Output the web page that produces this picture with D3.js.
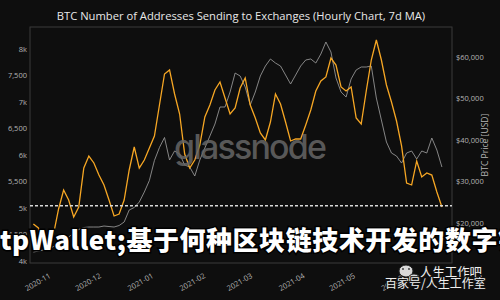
<!DOCTYPE html>
<html lang="en">
<head>
<meta charset="utf-8">
<title>BTC addresses sending to exchanges</title>
<script src="https://d3js.org/d3.v7.min.js"></script>
<style>
  body { margin: 0; background: #0e0e0e; }
  svg { display: block; }
</style>
</head>
<body>
<script>
// one sample every 3 days, 2020-10-23 .. 2021-06-23
var dates = d3.utcDay.range(new Date(Date.UTC(2020, 9, 23)), new Date(Date.UTC(2021, 5, 24)), 3);

// addresses sending to exchanges (7d MA), left axis
var addresses = [4698, 4622, 4415, 4330, 4509, 4981, 5339, 5151, 4830, 5019,
  5754, 5981, 5849, 5622, 5434, 5151, 4849, 4886, 5151, 5717,
  6151, 5754, 5905, 6132, 6358, 6943, 7528, 7604, 7151, 6773,
  6019, 5754, 5905, 6188, 6717, 6943, 7226, 7377, 7075, 6773,
  6887, 7264, 7453, 6943, 6698, 6415, 6283, 6622, 7151, 6962,
  6622, 6264, 6302, 6302, 6566, 6849, 7207, 7396, 7472, 7830,
  7698, 7283, 7207, 7283, 6698, 6585, 7207, 7792, 8170, 7792,
  7321, 7000, 6641, 6170, 5471, 5434, 5887, 5585, 5660, 5622,
  5302, 5019];

// BTC price (USD), right axis
var price = [13000, 13240, 13490, 13730, 14330, 14930, 15660, 16620, 17580, 18430,
  18910, 19030, 19030, 19030, 19270, 19150, 19030, 19390, 20235, 23130,
  23730, 25055, 27465, 30235, 35055, 38190, 40600, 35180, 37350, 36620,
  33970, 33490, 31320, 35180, 38070, 40960, 43850, 47950, 47950, 51565,
  56140, 55420, 52770, 48430, 51565, 55420, 57830, 59520, 58550, 57830,
  55660, 53490, 55660, 57830, 59280, 59520, 58550, 60720, 63615, 61205,
  54940, 51565, 50360, 54700, 56870, 57590, 57590, 57830, 50120, 44820,
  39515, 36860, 36140, 34450, 36860, 37350, 35420, 37350, 36860, 40480,
  37590, 33490];

var leftTicks = [4000, 4500, 5000, 5500, 6000, 6500, 7000, 7500, 8000];
var leftLabels = ["4k", "4,500", "5k", "5,500", "6k", "6,500", "7k", "7,500", "8k"];
var rightTicks = [20000, 30000, 40000, 50000, 60000];
var dashLevel = 5040;

var w = 500, h = 300;
var m = {left: 30, right: 452, top: 27, bottom: 263};

var svg = d3.select("body").append("svg")
  .attr("width", w)
  .attr("height", h)
  .style("background", "#0e0e0e");

var x = d3.scaleUtc()
  .domain([new Date(Date.UTC(2020, 9, 21)), new Date(Date.UTC(2021, 5, 29))])
  .range([m.left, m.right]);
var yL = d3.scaleLinear().domain([3962, 8415]).range([m.bottom, m.top]);
var yR = d3.scaleLinear().domain([10361, 67229]).range([m.bottom, m.top]);

svg.append("text")
  .attr("x", 241).attr("y", 20)
  .attr("text-anchor", "middle")
  .attr("font-family", "'Open Sans', sans-serif")
  .attr("font-size", 11.2)
  .attr("fill", "#e8e8e8")
  .text("BTC Number of Addresses Sending to Exchanges (Hourly Chart, 7d MA)");

svg.append("rect")
  .attr("x", m.left).attr("y", m.top)
  .attr("width", m.right - m.left).attr("height", m.bottom - m.top)
  .attr("fill", "none").attr("stroke", "#3a3a3a");

svg.append("clipPath").attr("id", "plot")
  .append("rect")
  .attr("x", m.left).attr("y", m.top)
  .attr("width", m.right - m.left).attr("height", m.bottom - m.top);

// axes
var gl = svg.append("g")
  .attr("transform", "translate(" + m.left + ",0)")
  .call(d3.axisLeft(yL).tickValues(leftTicks).tickFormat(function(d, i) { return leftLabels[i]; }).tickSize(0).tickPadding(3));
var gr = svg.append("g")
  .attr("transform", "translate(" + m.right + ",0)")
  .call(d3.axisRight(yR).tickValues(rightTicks).tickFormat(function(d) { return "$" + d3.format(",")(d); }).tickSize(0).tickPadding(4));
var gx = svg.append("g")
  .attr("transform", "translate(0," + m.bottom + ")")
  .call(d3.axisBottom(x).ticks(d3.utcMonth.every(1)).tickFormat(d3.utcFormat("%Y-%m")).tickSize(0));

[gl, gr, gx].forEach(function(g) {
  g.select(".domain").remove();
  g.selectAll("text")
    .attr("fill", "#b5b5b5")
    .attr("font-family", "'Open Sans', sans-serif")
    .attr("font-size", 7.5);
});
gx.selectAll("text")
  .attr("text-anchor", "end")
  .attr("y", 0).attr("dy", "0.35em")
  .attr("transform", "translate(1,12) rotate(-30)");

svg.append("text")
  .attr("transform", "translate(488,145) rotate(-90)")
  .attr("text-anchor", "middle")
  .attr("font-family", "'Open Sans', sans-serif")
  .attr("font-size", 8.6)
  .attr("fill", "#b5b5b5")
  .text("BTC Price [USD]");

// series
var plot = svg.append("g").attr("clip-path", "url(#plot)");

plot.append("path")
  .datum(dates)
  .attr("fill", "none")
  .attr("stroke", "#9a9a9a")
  .attr("stroke-opacity", 0.85)
  .attr("stroke-width", 1)
  .attr("d", d3.line()
    .x(function(d) { return x(d); })
    .y(function(d, i) { return yR(price[i]); }));

plot.append("path")
  .datum(dates)
  .attr("fill", "none")
  .attr("stroke", "#f7a724")
  .attr("stroke-width", 1.3)
  .attr("d", d3.line()
    .x(function(d) { return x(d); })
    .y(function(d, i) { return yL(addresses[i]); }));

plot.append("line")
  .attr("x1", m.left).attr("x2", m.right)
  .attr("y1", yL(dashLevel)).attr("y2", yL(dashLevel))
  .attr("stroke", "#d8d8d8")
  .attr("stroke-width", 1.5)
  .attr("stroke-dasharray", "3,2");

// glassnode watermark
svg.append("text")
  .attr("x", 174).attr("y", 159)
  .attr("font-family", "Inter, 'Liberation Sans', sans-serif")
  .attr("font-size", 34)
  .attr("font-weight", 500)
  .attr("fill", "#666")
  .attr("opacity", 0.85)
  .attr("textLength", 153)
  .text("glassnode");

// overlaid headline
svg.append("text")
  .attr("x", 0).attr("y", 250)
  .attr("font-family", "'Noto Sans CJK SC', sans-serif")
  .attr("font-weight", 900)
  .attr("font-size", 26)
  .attr("fill", "#ffffff")
  .attr("stroke", "#000")
  .attr("stroke-width", 3)
  .attr("paint-order", "stroke")
  .attr("textLength", 524)
  .attr("lengthAdjust", "spacing")
  .text("tpWallet;基于何种区块链技术开发的数字钱");

// bottom-right source mark
var mark = svg.append("g");
mark.append("ellipse").attr("cx", 406).attr("cy", 271).attr("rx", 7).attr("ry", 6)
  .attr("fill", "#d8d8d8").attr("stroke", "#222");
mark.append("ellipse").attr("cx", 414).attr("cy", 279).attr("rx", 6).attr("ry", 5)
  .attr("fill", "#d8d8d8").attr("stroke", "#222");
[[403, 269], [409, 269], [412, 278], [416, 278]].forEach(function(p) {
  mark.append("circle").attr("cx", p[0]).attr("cy", p[1]).attr("r", 0.9).attr("fill", "#333");
});
mark.append("text")
  .attr("x", 420).attr("y", 277)
  .attr("font-family", "'Noto Sans CJK SC', sans-serif")
  .attr("font-size", 12.4)
  .attr("fill", "#f0f0f0")
  .attr("stroke", "#111").attr("stroke-width", 2).attr("paint-order", "stroke")
  .text("人生工作吧");
mark.append("text")
  .attr("x", 385).attr("y", 288)
  .attr("font-family", "'Noto Sans CJK SC', sans-serif")
  .attr("font-size", 12)
  .attr("fill", "#f0f0f0")
  .attr("stroke", "#111").attr("stroke-width", 2).attr("paint-order", "stroke")
  .text("百家号/人生工作室");
</script>
</body>
</html>
